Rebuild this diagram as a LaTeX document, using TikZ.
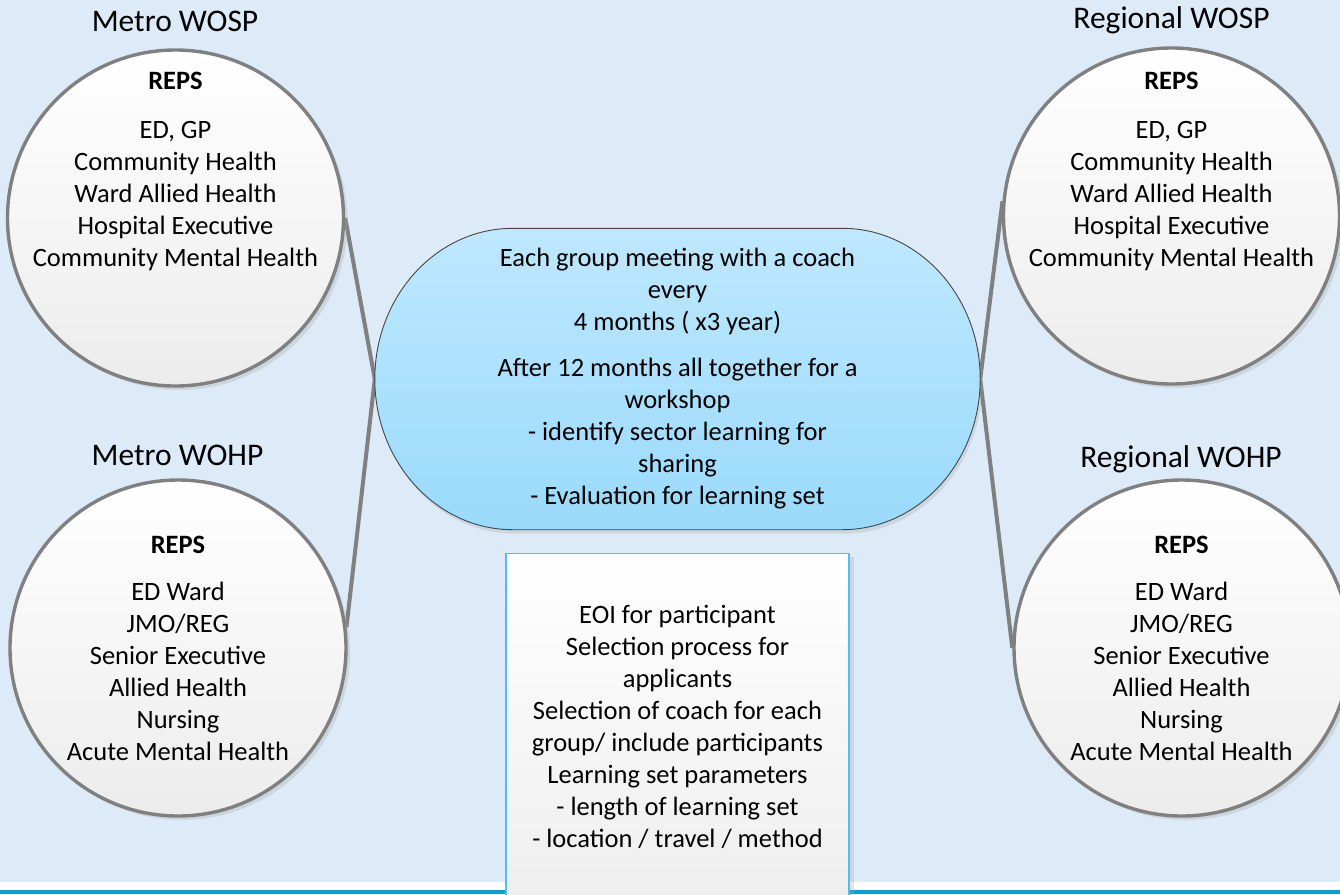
\documentclass[tikz,border=0pt]{standalone}
\usepackage{fontspec}
\setmainfont{Carlito}
\usepackage{tikz}
\usetikzlibrary{positioning, calc, shadows, backgrounds}

\definecolor{pagebg}{RGB}{221,235,248}
\definecolor{barblue}{RGB}{0,162,218}
\definecolor{rimgray}{RGB}{128,128,128}
\definecolor{circlebottom}{RGB}{236,236,236}
\definecolor{meettop}{RGB}{190,232,254}
\definecolor{meetbottom}{RGB}{154,218,251}
\definecolor{meetrim}{RGB}{70,70,70}
\definecolor{noterim}{RGB}{80,190,240}
\definecolor{notebottom}{RGB}{238,238,238}

\newcommand{\bodysize}{\fontsize{26.5}{32}\selectfont}
\newcommand{\titlesize}{\fontsize{31.5}{38}\selectfont}

\begin{document}
\begin{tikzpicture}[
  x=1pt, y=-1pt,
  group/.style = {
    circle,
    draw=rimgray,
    line width=3.4pt,
    top color=white,
    bottom color=circlebottom,
    minimum size=336pt,
    drop shadow={shadow xshift=4pt, shadow yshift=-4pt, opacity=0.3, fill=black!35}
  },
  title/.style = {font=\titlesize, inner sep=0pt, anchor=base},
  reps/.style = {font=\bodysize, align=center, inner sep=0pt},
  link/.style = {draw=rimgray, line width=4pt},
  meetshape/.style = {
    draw=meetrim,
    line width=0.9pt,
    top color=meettop,
    bottom color=meetbottom,
    drop shadow={shadow xshift=2pt, shadow yshift=-4pt, opacity=0.3, fill=black!35}
  },
  notebox/.style = {
    draw=noterim,
    line width=1.3pt,
    top color=white,
    bottom color=notebottom,
    minimum width=343pt,
    minimum height=346pt,
    font=\bodysize,
    align=center,
    anchor=north,
    drop shadow={shadow xshift=5pt, shadow yshift=-3pt, opacity=0.3, fill=black!35}
  }
]

\useasboundingbox (0,0) rectangle (1340,894);

\begin{scope}[on background layer]
  \fill[pagebg] (0,0) rectangle (1340,882);
  \fill[white] (0,882) rectangle (1340,890);
  \fill[barblue] (0,890) rectangle (1340,894);
\end{scope}

% ======================================================
% METRO GROUPS (left)
% ======================================================

\node[group] (metro_sp) at (175.5,218) {};
\node[title] (metro_sp_title) at (175,31) {Metro WOSP};
\node[reps] (metro_sp_reps) at (175.5,171) {
  \textbf{REPS}\\[17pt]
  ED, GP\\
  Community Health\\
  Ward Allied Health\\
  Hospital Executive\\
  Community Mental Health
};

\node[group] (metro_hp) at (178,648) {};
\node[title] (metro_hp_title) at (177.5,465) {Metro WOHP};
\node[reps] (metro_hp_reps) at (178,648.5) {
  \textbf{REPS}\\[15pt]
  ED Ward\\
  JMO/REG\\
  Senior Executive\\
  Allied Health\\
  Nursing\\
  Acute Mental Health
};

% ======================================================
% REGIONAL GROUPS (right)
% ======================================================

\node[group] (regional_sp) at (1171.5,216) {};
\node[title] (regional_sp_title) at (1171.5,28) {Regional WOSP};
\node[reps] (regional_sp_reps) at (1171.5,171) {
  \textbf{REPS}\\[17pt]
  ED, GP\\
  Community Health\\
  Ward Allied Health\\
  Hospital Executive\\
  Community Mental Health
};

\node[group] (regional_hp) at (1182,648) {};
\node[title] (regional_hp_title) at (1181,467) {Regional WOHP};
\node[reps] (regional_hp_reps) at (1181.5,648.5) {
  \textbf{REPS}\\[15pt]
  ED Ward\\
  JMO/REG\\
  Senior Executive\\
  Allied Health\\
  Nursing\\
  Acute Mental Health
};

% ======================================================
% MEETINGS (centre) and SET-UP box
% ======================================================

\node[reps, minimum width=605pt, minimum height=301pt] (meeting) at (677.5,379) {
  Each group meeting with a coach\\
  every\\
  4 months ( x3 year)\\[14pt]
  After 12 months all together for a\\
  workshop\\
  - identify sector learning for\\
  sharing\\
  - Evaluation for learning set
};

\node[notebox] (setup) at (677.5,553) {
  EOI for participant\\
  Selection process for\\
  applicants\\
  Selection of coach for each\\
  group/ include participants\\
  Learning set parameters\\
  - length of learning set\\
  - location / travel / method
};

\begin{scope}[on background layer]
  % links first, so the shapes sit on top
  \draw[link] (metro_sp.east) -- (meeting.west);
  \draw[link] (metro_hp.7) -- (meeting.west);
  \draw[link] (regional_sp.175) -- (meeting.east);
  \draw[link] (regional_hp.west) -- (meeting.east);

  \coordinate (meet_tl) at ($(meeting.north west)+(138,0)$);
  \coordinate (meet_tr) at ($(meeting.north east)+(-138,0)$);
  \coordinate (meet_br) at ($(meeting.south east)+(-138,0)$);
  \coordinate (meet_bl) at ($(meeting.south west)+(138,0)$);

  \path[meetshape]
    (meet_tl) -- (meet_tr)
    .. controls +(76.2,0) and +(0,-83.1) .. (meeting.east)
    .. controls +(0,83.1) and +(76.2,0) .. (meet_br)
    -- (meet_bl)
    .. controls +(-76.2,0) and +(0,83.1) .. (meeting.west)
    .. controls +(0,-83.1) and +(-76.2,0) .. (meet_tl)
    -- cycle;
\end{scope}

\end{tikzpicture}
\end{document}
